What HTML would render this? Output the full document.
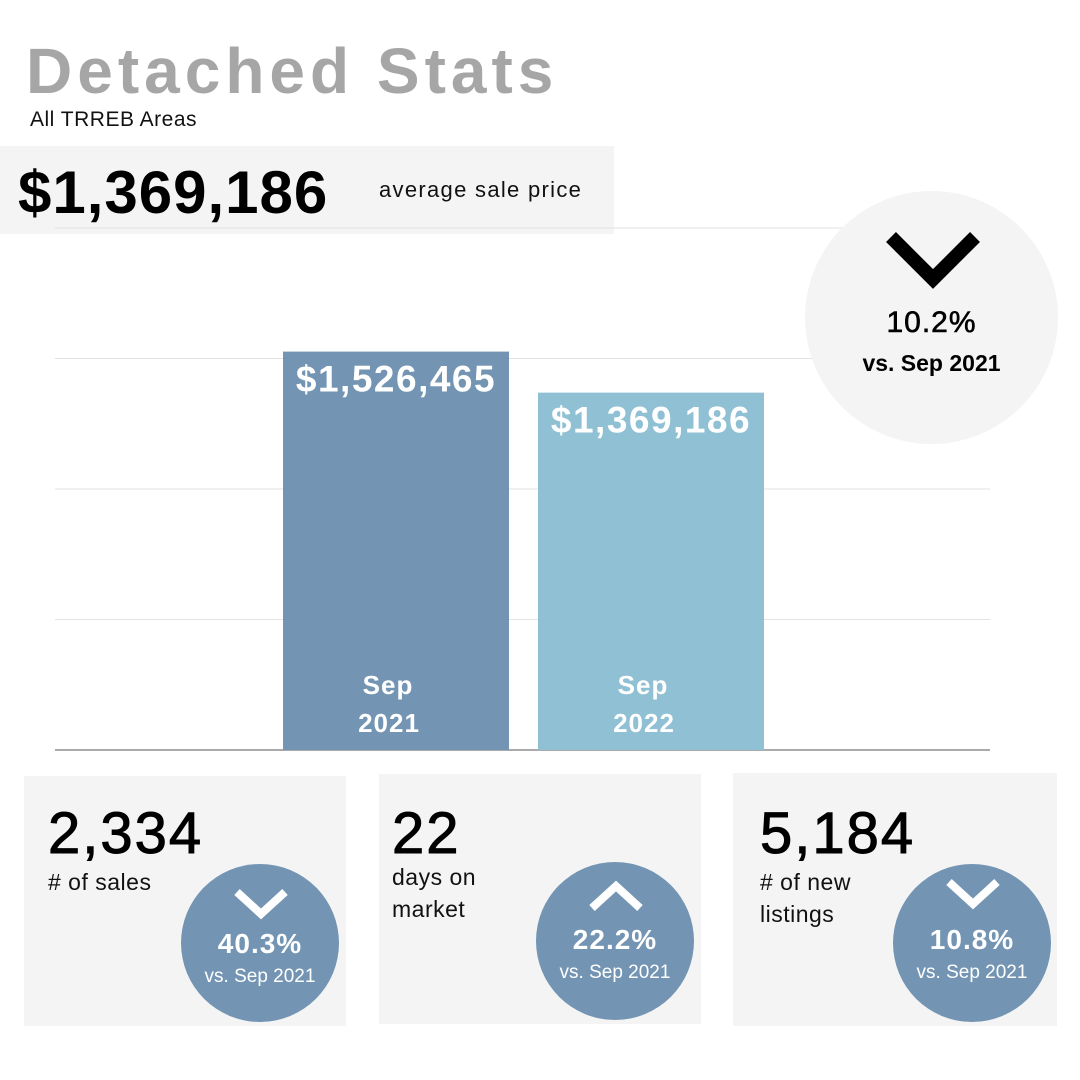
<!DOCTYPE html>
<html><head><meta charset="utf-8"><style>
body{margin:0;width:1080px;height:1080px;background:#fff;font-family:"Liberation Sans",sans-serif;position:relative;overflow:hidden}
.abs{position:absolute}
.card{position:absolute;background:#f4f4f4}
.circ{position:absolute;border-radius:50%;background:#7395b3;color:#fff;text-align:center}
.big{font-size:58px;color:#000;position:absolute;letter-spacing:2px;-webkit-text-stroke:1px #000}
.lbl{font-size:23px;color:#111;position:absolute;line-height:32px;letter-spacing:0.5px}
</style></head><body>
<div class="abs" style="left:26px;top:34px;font-size:64px;font-weight:bold;color:#a6a6a6;letter-spacing:5px">Detached Stats</div>
<div class="abs" style="left:30px;top:108px;font-size:21px;color:#111;letter-spacing:0.5px">All TRREB Areas</div>
<div class="card" style="left:0;top:146px;width:614px;height:88px"></div>
<div class="abs" style="left:18px;top:158px;font-size:60px;font-weight:bold;color:#000;letter-spacing:1px">$1,369,186</div>
<div class="abs" style="left:379px;top:177px;font-size:22px;color:#111;letter-spacing:1.3px">average sale price</div>
<svg id="chart" class="abs" style="left:0;top:0" width="1080" height="760"></svg>
<div class="abs" style="left:805px;top:191px;width:253px;height:253px;border-radius:50%;background:#f4f4f4;text-align:center">
<svg width="100" height="60" style="position:absolute;left:78px;top:38px"><polyline points="8,8 50,50 92,8" fill="none" stroke="#000" stroke-width="14"/></svg>
<div style="position:absolute;width:100%;top:115px;font-size:30px;color:#000;letter-spacing:1px;-webkit-text-stroke:0.6px #000">10.2%</div>
<div style="position:absolute;width:100%;top:159px;font-size:23px;font-weight:bold;color:#000">vs. Sep 2021</div>
</div>

<div class="card" style="left:24px;top:776px;width:322px;height:250px"></div>
<div class="big" style="left:48px;top:800px">2,334</div>
<div class="lbl" style="left:48px;top:866px"># of sales</div>
<div class="circ" style="left:181px;top:864px;width:158px;height:158px">
<svg width="60" height="36" style="position:absolute;left:50px;top:22px"><polyline points="6,6 30,28 54,6" fill="none" stroke="#fff" stroke-width="8"/></svg>
<div style="position:absolute;width:100%;top:64px;font-size:28px;font-weight:bold;letter-spacing:1px">40.3%</div>
<div style="position:absolute;width:100%;top:102px;font-size:19px">vs. Sep 2021</div></div>

<div class="card" style="left:379px;top:774px;width:322px;height:250px"></div>
<div class="big" style="left:392px;top:800px">22</div>
<div class="lbl" style="left:392px;top:861px">days on<br>market</div>
<div class="circ" style="left:536px;top:862px;width:158px;height:158px">
<svg width="60" height="36" style="position:absolute;left:50px;top:16px"><polyline points="6,30 30,8 54,30" fill="none" stroke="#fff" stroke-width="8"/></svg>
<div style="position:absolute;width:100%;top:62px;font-size:28px;font-weight:bold;letter-spacing:1px">22.2%</div>
<div style="position:absolute;width:100%;top:100px;font-size:19px">vs. Sep 2021</div></div>

<div class="card" style="left:733px;top:773px;width:324px;height:253px"></div>
<div class="big" style="left:760px;top:800px">5,184</div>
<div class="lbl" style="left:760px;top:866px"># of new<br>listings</div>
<div class="circ" style="left:893px;top:864px;width:158px;height:158px">
<svg width="60" height="36" style="position:absolute;left:50px;top:12px"><polyline points="6,6 30,28 54,6" fill="none" stroke="#fff" stroke-width="8"/></svg>
<div style="position:absolute;width:100%;top:60px;font-size:28px;font-weight:bold;letter-spacing:1px">10.8%</div>
<div style="position:absolute;width:100%;top:98px;font-size:19px">vs. Sep 2021</div></div>

<script>
const categories=[["Sep","2021"],["Sep","2022"]];
const values=[1526465,1369186];
const valueLabels=["$1,526,465","$1,369,186"];
const barColors=["#7395b3","#90c0d4"];
const ticks=[0,500000,1000000,1500000,2000000];
const svg=document.getElementById('chart');
const NS="http://www.w3.org/2000/svg";
const y0=750,yTop=228,yMax=2000000,xL=55,xR=990;
const y=v=>y0-(v/yMax)*(y0-yTop);
const xStart=[283,538],bw=226;
function mk(t,a){const e=document.createElementNS(NS,t);for(const k in a)e.setAttribute(k,a[k]);svg.appendChild(e);return e;}
ticks.forEach((t,i)=>{
 const l=mk('line',{x1:xL,x2:xR,y1:y(t),y2:y(t),stroke:t===0?'#aaa':'#e2e2e2','stroke-width':t===0?2:1});
 
 
});
values.forEach((v,i)=>{
 const x=xStart[0]+i*(xStart[1]-xStart[0]);
 const r=mk('rect',{x:x,y:y(v),width:bw,height:y0-y(v),fill:barColors[i]});
 
 
 const t=mk('text',{x:x+bw/2,y:y(v)+40,'text-anchor':'middle',fill:'#fff','font-size':37,'font-weight':'bold','letter-spacing':1.5,'font-family':'Liberation Sans,sans-serif'});
 t.textContent=valueLabels[i];
 
 
 categories[i].forEach((s,j)=>{
  const c=mk('text',{x:x+bw/2+(j?-7:-8),y:694+j*38,'text-anchor':'middle',fill:'#fff','font-size':26,'font-weight':'bold','letter-spacing':1,'font-family':'Liberation Sans,sans-serif'});
  c.textContent=s;
  
  
 });
});
</script>
</body></html>
